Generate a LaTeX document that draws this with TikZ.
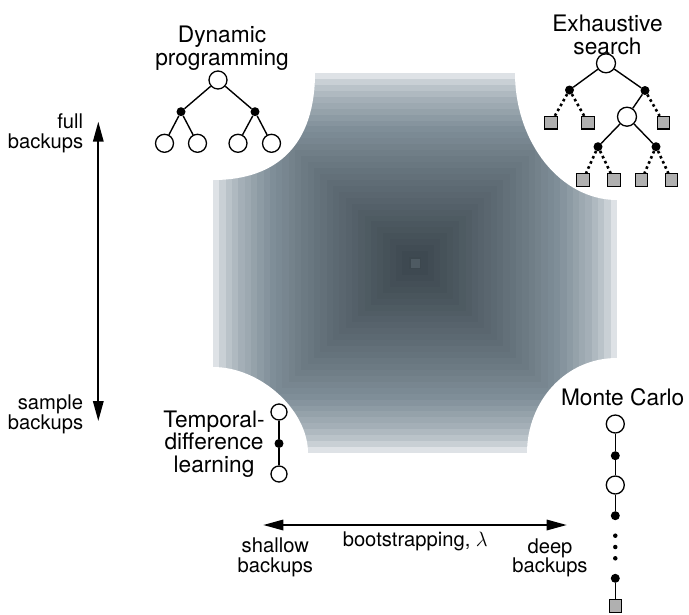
\documentclass[tikz,border=0pt]{standalone}
\usepackage{fontspec}
\setmainfont{TeX Gyre Heros}
\usetikzlibrary{arrows.meta}
\definecolor{lt}{RGB}{238,241,244}
\definecolor{md}{RGB}{128,143,153}
\definecolor{dk}{RGB}{58,69,76}
\definecolor{leafgray}{RGB}{176,176,176}
\definecolor{ctrsq}{RGB}{78,90,98}
\begin{document}
\begin{tikzpicture}[x=1pt,y=-1pt,
 title/.style={font=\fontsize{22.7}{23}\selectfont, inner sep=0pt, anchor=base},
 lab/.style={font=\fontsize{20.2}{21}\selectfont, inner sep=0pt, anchor=base},
 st/.style={circle, draw, fill=white, line width=1.3pt, minimum size=18pt, inner sep=0pt},
 act/.style={circle, fill=black, minimum size=9pt, inner sep=0pt},
 small/.style={circle, fill=black, minimum size=4.5pt, inner sep=0pt},
 term/.style={rectangle, draw, fill=leafgray, line width=1.1pt, minimum size=12.5pt, inner sep=0pt},
 edge/.style={line width=1.4pt},
 dotedge/.style={line width=2.6pt, dash pattern=on 2.6pt off 3pt},
 axis/.style={line width=1.7pt, {Triangle[length=20pt,width=10.5pt]}-{Triangle[length=20pt,width=10.5pt]}},
]
\useasboundingbox (0,0) rectangle (689,614);
\fill[white] (0,0) rectangle (689,614);
% shaded square
\foreach \i in {0,...,31}{
  \pgfmathsetmacro\pct{100*((\i+0.3)/32)^0.55}
  \pgfmathsetmacro\hw{202*(1-\i/32)}
  \pgfmathsetmacro\hh{190*(1-\i/32)}
  \pgfmathtruncatemacro\lo{\pct<50 ? 1 : 0}
  \ifnum\lo=1
    \pgfmathtruncatemacro\q{2*\pct}
    \fill[md!\q!lt] ({415-\hw},{263-\hh}) rectangle ({415+\hw},{263+\hh});
  \else
    \pgfmathtruncatemacro\q{2*\pct-100}
    \fill[dk!\q!md] ({415-\hw},{263-\hh}) rectangle ({415+\hw},{263+\hh});
  \fi
}
\fill[ctrsq] (410.5,258.5) rectangle (419.5,267.5);
% white corners
\fill[white] (205,65) -- (315,65) -- (315,73) .. controls (315,142.5) and (279.3,180) .. (213,180) -- (205,180) -- cycle;
\fill[white] (515,65) -- (625,65) -- (625,200) -- (617,200) .. controls (560.9,200) and (515,142.9) .. (515,73) -- cycle;
\fill[white] (205,367) -- (213,367) .. controls (260.5,367) and (308,410) .. (308,453) -- (308,461) -- (205,461) -- cycle;
\fill[white] (625,358) -- (617,358) .. controls (564.8,358) and (527,402) .. (527,453) -- (527,461) -- (625,461) -- cycle;

% Dynamic programming
\node[title] (dpt1) at (222,42) {Dynamic};
\node[title] (dpt2) at (222,65) {programming};
\node[st] (dpr) at (218,80) {};
\node[act] (dpa1) at (181,111.7) {};
\node[act] (dpa2) at (255,111.7) {};
\node[st] (dpl1) at (164.5,143.3) {};
\node[st] (dpl2) at (197.5,143.3) {};
\node[st] (dpl3) at (238,143.3) {};
\node[st] (dpl4) at (271.5,143.3) {};
\draw[edge] (dpr) -- (dpa1); \draw[edge] (dpr) -- (dpa2);
\draw[edge] (dpa1) -- (dpl1); \draw[edge] (dpa1) -- (dpl2);
\draw[edge] (dpa2) -- (dpl3); \draw[edge] (dpa2) -- (dpl4);

% Exhaustive search
\node[title] (est1) at (607.5,31) {Exhaustive};
\node[title] (est2) at (607.5,54) {search};
\node[st, minimum size=19pt] (esr) at (606,63.3) {};
\node[act] (esa1) at (569.5,90) {};
\node[act] (esa2) at (645,90.5) {};
\node[term] (esl1) at (551,122.7) {};
\node[term] (esl2) at (588,122.7) {};
\node[st, minimum size=19pt] (ess2) at (627,116.7) {};
\node[term] (esl3) at (663.5,122.7) {};
\node[act] (esa3) at (598,146.7) {};
\node[act] (esa4) at (656,146.7) {};
\node[term] (esl4) at (583,180) {};
\node[term] (esl5) at (614,180) {};
\node[term] (esl6) at (641.5,180) {};
\node[term] (esl7) at (671.5,180) {};
\draw[edge] (esr) -- (esa1); \draw[edge] (esr) -- (esa2);
\draw[dotedge] (esa1) -- (esl1); \draw[dotedge] (esa1) -- (esl2);
\draw[edge] (esa2) -- (ess2); \draw[dotedge] (esa2) -- (esl3);
\draw[edge] (ess2) -- (esa3); \draw[edge] (ess2) -- (esa4);
\draw[dotedge] (esa3) -- (esl4); \draw[dotedge] (esa3) -- (esl5);
\draw[dotedge] (esa4) -- (esl6); \draw[dotedge] (esa4) -- (esl7);

% Temporal-difference learning
\node[title] (tdt1) at (214,427) {Temporal-};
\node[title] (tdt2) at (214,449.5) {difference};
\node[title] (tdt3) at (214,472) {learning};
\node[st, minimum size=16pt] (tds1) at (279,412) {};
\node[act] (tda) at (279,443.5) {};
\node[st, minimum size=16pt] (tds2) at (279,474) {};
\draw[edge] (tds1) -- (tda); \draw[edge] (tda) -- (tds2);

% Monte Carlo
\node[title] (mct) at (622.7,405) {Monte Carlo};
\node[st] (mcs1) at (615.3,424) {};
\node[act] (mca1) at (615.3,455.7) {};
\node[st] (mcs2) at (615.3,485) {};
\node[act] (mca2) at (615.3,515.7) {};
\node[small] (mcd1) at (615.3,535.7) {};
\node[small] (mcd2) at (615.3,547) {};
\node[small] (mcd3) at (615.3,558.3) {};
\node[act] (mca3) at (615.3,578.3) {};
\node[term] (mcl) at (615.3,606) {};
\draw[edge] (mcs1) -- (mca1); \draw[edge] (mca1) -- (mcs2);
\draw[edge] (mcs2) -- (mca2); \draw[edge] (mca3) -- (mcl);

% axes
\coordinate (vtop) at (98.3,121.7);
\coordinate (vbot) at (98.3,421);
\draw[axis] (vbot) -- (vtop);
\node[lab, anchor=base east] (full1) at (83.3,128.3) {full};
\node[lab, anchor=base east] (full2) at (83.3,148.3) {backups};
\node[lab, anchor=base east] (samp1) at (83.3,409) {sample};
\node[lab, anchor=base east] (samp2) at (83.3,429) {backups};

\coordinate (hleft) at (263.3,525);
\coordinate (hright) at (566.7,525);
\draw[axis] (hleft) -- (hright);
\node[lab] (boot) at (415.3,546.7) {bootstrapping, $\lambda$};
\node[lab] (sh1) at (275.3,552.7) {shallow};
\node[lab] (sh2) at (275.3,572.7) {backups};
\node[lab] (dp1) at (550,553) {deep};
\node[lab] (dp2) at (550,572.7) {backups};
\end{tikzpicture}
\end{document}
